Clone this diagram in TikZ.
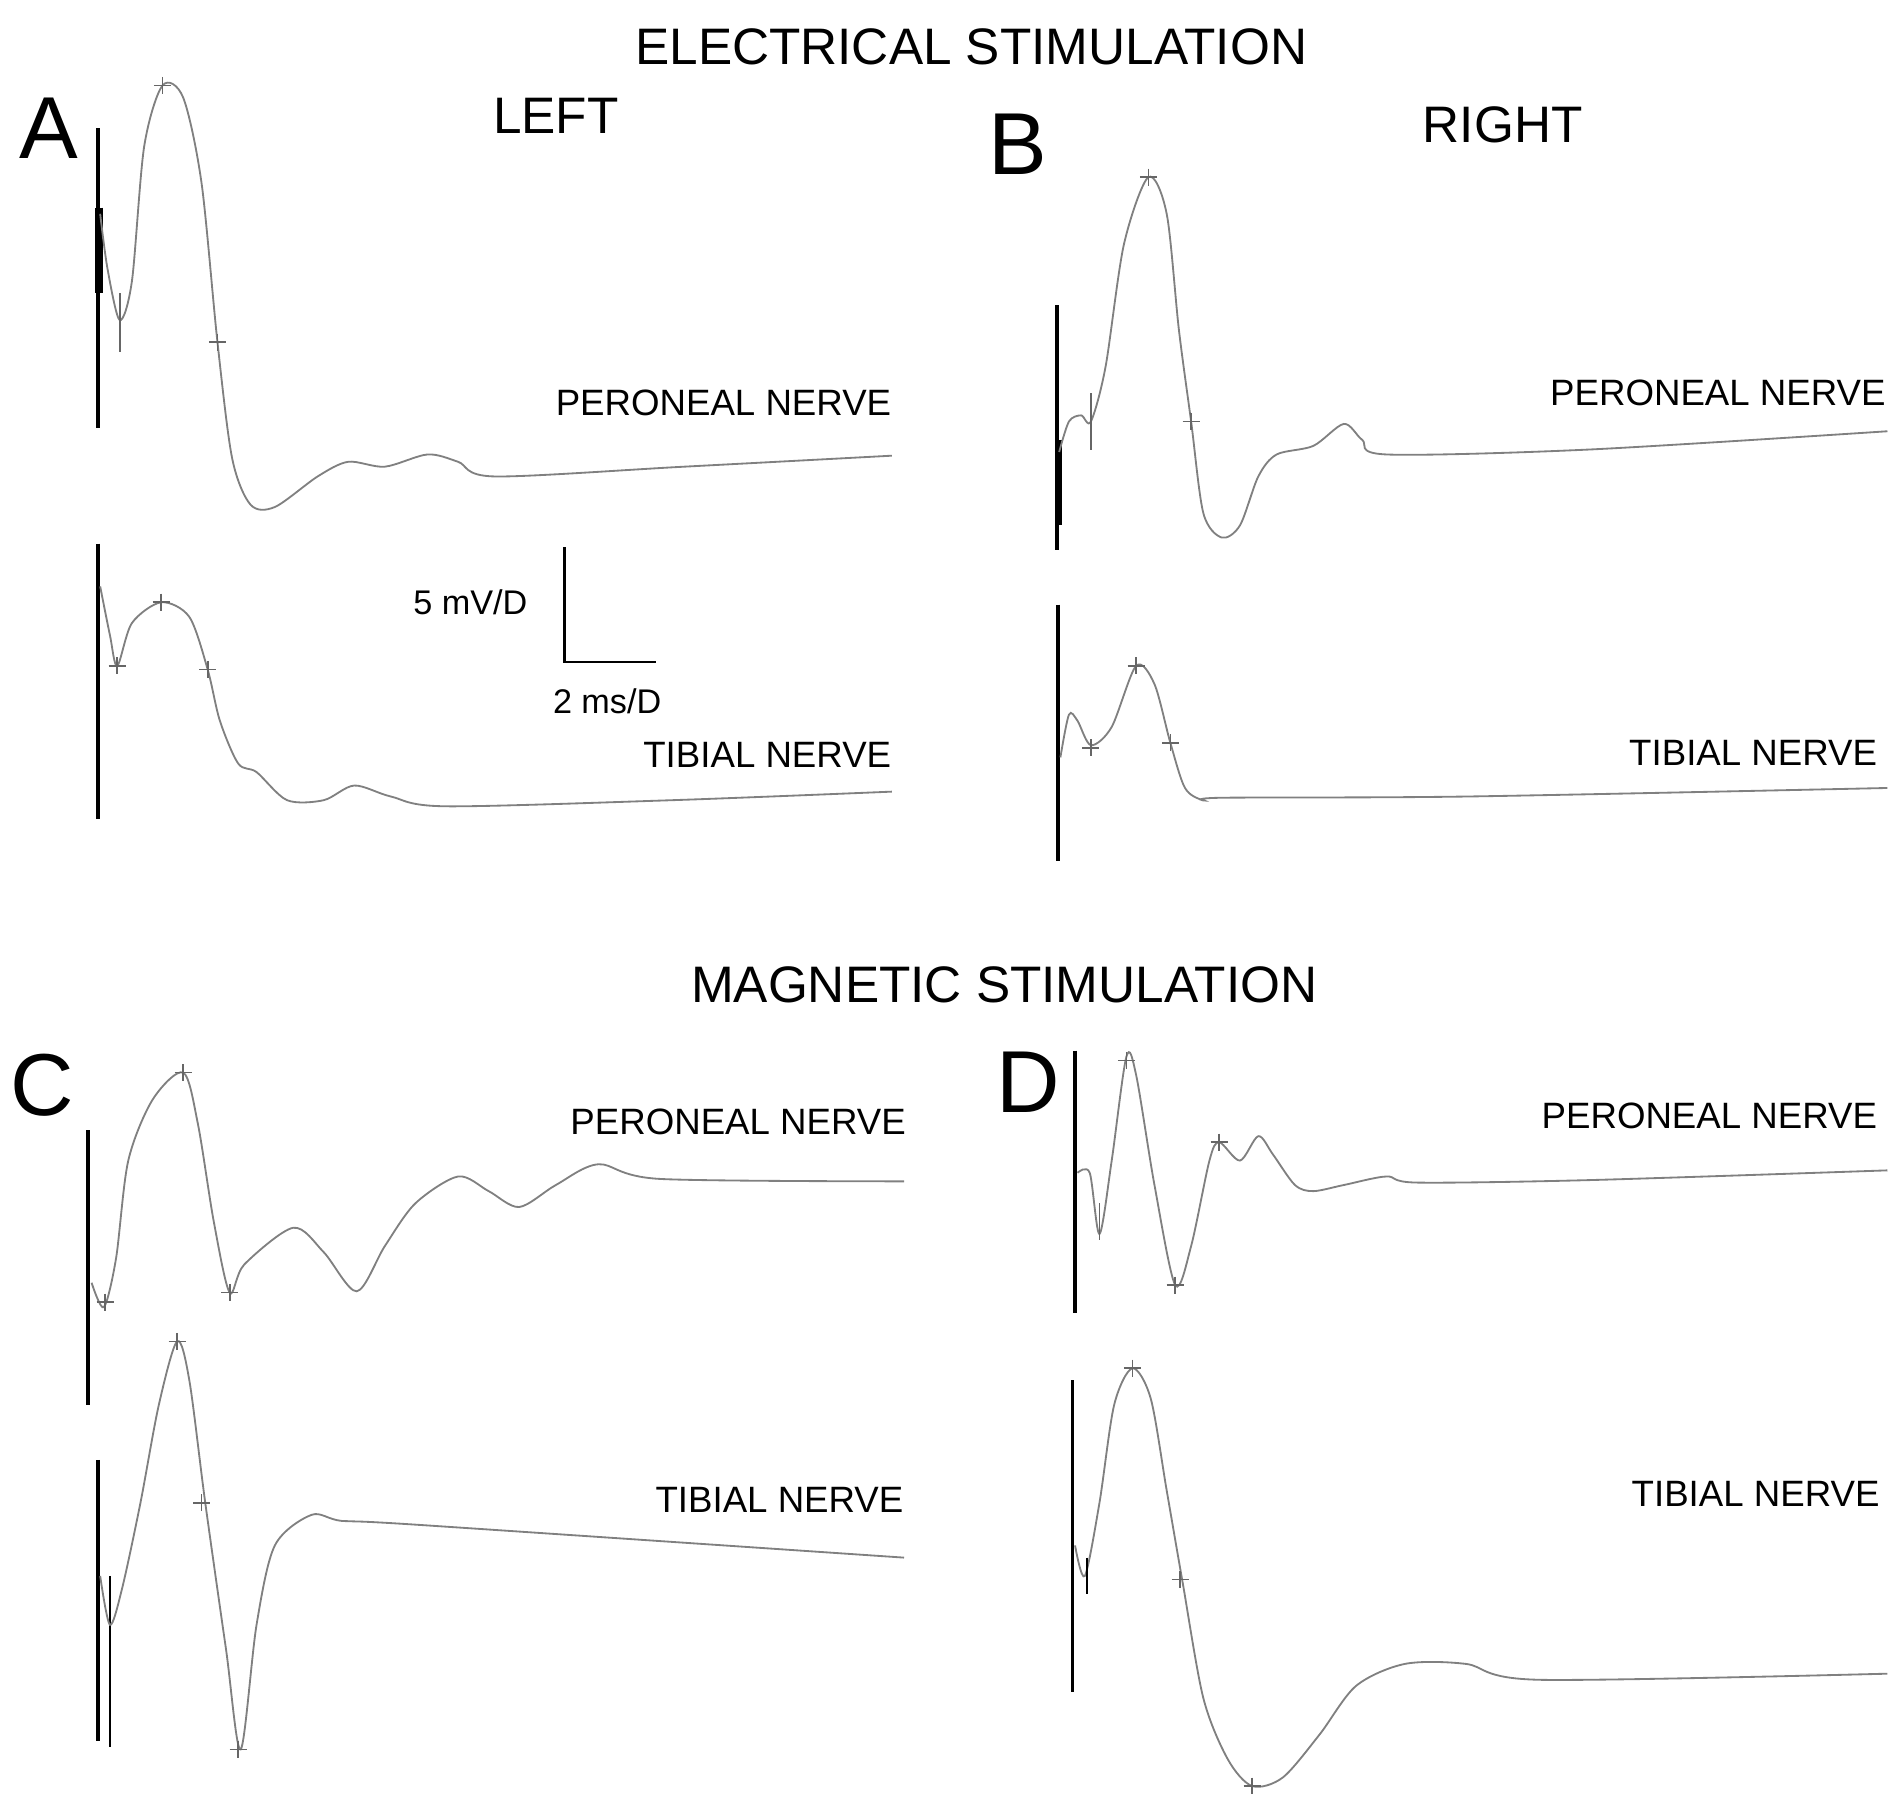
\documentclass[tikz,border=0pt]{standalone}
\usepackage{fontspec}
\setmainfont{Liberation Sans}
\begin{document}
\begin{tikzpicture}[x=1pt,y=-1pt,
  tr/.style={draw=black!50,line width=1.5pt,smooth,tension=0.5},
  art/.style={draw=black,line width=3pt},
  lab/.style={anchor=east,font=\fontsize{30}{30}\selectfont},
  ttl/.style={font=\fontsize{42}{42}\selectfont},
  let/.style={font=\fontsize{72}{72}\selectfont},
  pics/cross/.style={code={\draw[black!60,line width=1.4pt] (-7,0)--(7,0) (0,-7)--(0,7);}}]
\useasboundingbox (0,0) rectangle (1552,1468);
\node[ttl] (t1) at (795,38) {ELECTRICAL STIMULATION};
\node[ttl] (t2) at (822,806) {MAGNETIC STIMULATION};
\node[ttl] (l) at (455,95) {LEFT};
\node[ttl] (r) at (1230,102) {RIGHT};
\node[let] (A) at (40,105) {A};
\node[let] (B) at (833,118) {B};
\node[let] (C) at (35,888) {C};
\node[let] (D) at (842,886) {D};
% A peroneal
\draw[art] (80,105)--(80,350); \draw[black,line width=6pt] (81,170)--(81,240);
\draw[tr] plot coordinates {(82,175)(88,220)(98,262)(108,230)(118,120)(133,70)(150,80)(165,150)(178,280)(190,375)(205,413)(225,415)(260,390)(285,378)(315,382)(350,372)(375,378)(405,390)(560,382)(730,373)};
\draw[black!60,line width=1.5pt] (98,240)--(98,288);
\pic at (133,70) {cross}; \pic at (178,280) {cross};
\node[lab] (pa) at (733,330) {PERONEAL NERVE};
% A tibial
\draw[art] (80,445)--(80,670);
\draw[tr] plot coordinates {(82,480)(90,520)(96,545)(108,510)(132,493)(155,505)(170,548)(180,590)(195,625)(210,632)(235,655)(265,655)(290,643)(320,652)(365,660)(550,655)(730,648)};
\pic at (132,493) {cross}; \pic at (170,548) {cross}; \pic at (96,545) {cross};
\node[lab] (ta) at (733,618) {TIBIAL NERVE};
% scale bar
\draw[black,line width=2pt] (462,448)--(462,542)--(537,542);
\node[font=\fontsize{28}{28}\selectfont] (sv) at (385,493) {5 mV/D};
\node[font=\fontsize{28}{28}\selectfont] (sh) at (497,574) {2 ms/D};
% B peroneal
\draw[art] (865,250)--(865,450); \draw[black,line width=5pt] (867,360)--(867,430);
\draw[tr] plot coordinates {(867,370)(875,345)(885,340)(893,345)(905,300)(920,200)(940,145)(955,175)(965,270)(975,345)(985,420)(1000,440)(1015,430)(1030,390)(1045,372)(1075,365)(1100,347)(1115,360)(1135,372)(1300,368)(1545,353)};
\draw[black!60,line width=1.5pt] (893,322)--(893,368);
\pic at (940,145) {cross}; \pic at (975,345) {cross};
\node[lab] (pb) at (1547,322) {PERONEAL NERVE};
% B tibial
\draw[art] (866,495)--(866,705);
\draw[tr] plot coordinates {(868,620)(875,585)(882,590)(893,610)(910,595)(930,545)(945,560)(958,608)(970,645)(985,655)(1000,653)(1200,652)(1545,645)};
\pic at (930,545) {cross}; \pic at (958,608) {cross}; \pic at (893,612) {cross};
\node[lab] (tb) at (1540,616) {TIBIAL NERVE};
% C peroneal
\draw[art] (72,925)--(72,1150);
\draw[tr] plot coordinates {(75,1050)(85,1070)(95,1030)(105,950)(125,900)(150,878)(162,920)(175,1000)(188,1058)(200,1035)(240,1005)(265,1025)(292,1057)(315,1020)(340,985)(375,963)(400,975)(425,988)(455,970)(490,953)(540,965)(740,967)};
\pic at (150,878) {cross}; \pic at (188,1058) {cross}; \pic at (86,1066) {cross};
\node[lab] (pc) at (745,918) {PERONEAL NERVE};
% C tibial
\draw[art] (80,1195)--(80,1425); \draw[black,line width=2pt] (90,1290)--(90,1430);
\draw[tr] plot coordinates {(82,1290)(90,1330)(100,1300)(115,1230)(130,1150)(145,1098)(155,1130)(168,1230)(185,1350)(197,1432)(210,1330)(225,1265)(255,1240)(280,1245)(340,1248)(740,1275)};
\pic at (145,1098) {cross}; \pic at (165,1230) {cross}; \pic at (195,1432) {cross};
\node[lab] (tc) at (743,1228) {TIBIAL NERVE};
% D peroneal
\draw[art] (880,860)--(880,1075);
\draw[tr] plot coordinates {(882,960)(892,960)(900,1010)(910,950)(922,865)(930,880)(945,970)(962,1052)(975,1020)(990,950)(998,935)(1015,950)(1030,930)(1042,945)(1060,970)(1075,975)(1100,970)(1135,963)(1160,968)(1300,966)(1545,958)};
\draw[black!60,line width=1.5pt] (900,985)--(900,1015);
\pic at (922,868) {cross}; \pic at (962,1052) {cross}; \pic at (998,935) {cross};
\node[lab] (pd) at (1540,913) {PERONEAL NERVE};
% D tibial
\draw[art] (878,1130)--(878,1385);
\draw[tr] plot coordinates {(880,1265)(888,1290)(900,1230)(912,1150)(927,1120)(942,1145)(955,1220)(968,1295)(985,1390)(1005,1440)(1025,1462)(1050,1455)(1080,1420)(1110,1380)(1150,1362)(1200,1362)(1260,1375)(1545,1370)};
\draw[black,line width=1.5pt] (890,1275)--(890,1305);
\pic at (927,1120) {cross}; \pic at (966,1293) {cross}; \pic at (1025,1462) {cross};
\node[lab] (td) at (1542,1223) {TIBIAL NERVE};
\end{tikzpicture}
\end{document}
